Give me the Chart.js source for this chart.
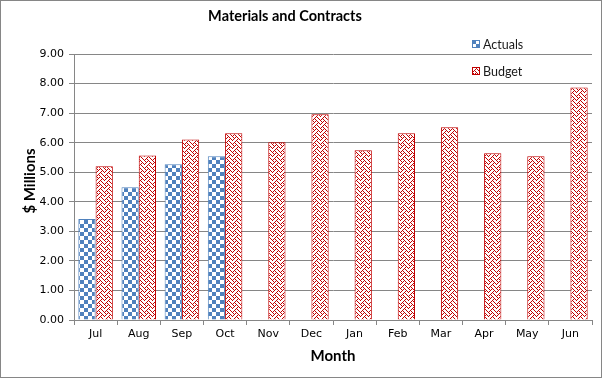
<!DOCTYPE html>
<html>
<head>
<meta charset="utf-8">
<script src="https://cdn.jsdelivr.net/npm/chart.js@4/dist/chart.umd.min.js"></script>
<style>
  html, body { margin: 0; padding: 0; background: #fff; overflow: hidden; }
  #wrap { width: 603px; height: 378px; position: relative; }
</style>
</head>
<body>
<div id="wrap"><canvas id="c"></canvas></div>
<script>
const categories = ['Jul','Aug','Sep','Oct','Nov','Dec','Jan','Feb','Mar','Apr','May','Jun'];
const actuals = [3.42, 4.49, 5.27, 5.54, null, null, null, null, null, null, null, null];
const budget = [5.20, 5.57, 6.11, 6.32, 6.01, 6.96, 5.74, 6.32, 6.52, 5.64, 5.54, 7.87];
const yTicks = [0, 1, 2, 3, 4, 5, 6, 7, 8, 9];
const chartTitle = 'Materials and Contracts';
const xTitle = 'Month';
const yTitle = '$ Millions';
const seriesNames = ['Actuals', 'Budget'];

const BLUE = '#4F81BD';
const RED = '#C00000';
const GRID = '#868686';

function checkerPattern() {
  const cv = document.createElement('canvas');
  cv.width = 8; cv.height = 8;
  const g = cv.getContext('2d');
  g.fillStyle = '#fff'; g.fillRect(0, 0, 8, 8);
  g.fillStyle = BLUE;
  g.fillRect(0, 0, 4, 4);
  g.fillRect(4, 4, 4, 4);
  return document.getElementById('c').getContext('2d').createPattern(cv, 'repeat');
}
function weavePattern() {
  const rows = ['10001000','01010100','00100010','01000101','10001000','00010100','00100010','01010001'];
  const cv = document.createElement('canvas');
  cv.width = 8; cv.height = 8;
  const g = cv.getContext('2d');
  g.fillStyle = '#fff'; g.fillRect(0, 0, 8, 8);
  g.fillStyle = RED;
  rows.forEach((r, y) => { for (let x = 0; x < 8; x++) if (r[x] === '1') g.fillRect(x, y, 1, 1); });
  return document.getElementById('c').getContext('2d').createPattern(cv, 'repeat');
}
const pA = checkerPattern();
const pB = weavePattern();

const decor = {
  id: 'decor',
  afterDraw(chart) {
    const ctx = chart.ctx;
    ctx.save();
    // title
    ctx.fillStyle = '#000';
    ctx.font = 'bold 14.5px Lato';
    ctx.textAlign = 'center';
    ctx.textBaseline = 'middle';
    ctx.fillText(chartTitle, 285, 16);
    // y axis title
    ctx.save();
    ctx.translate(30, 181);
    ctx.rotate(-Math.PI / 2);
    ctx.font = 'bold 15px Lato';
    ctx.fillText(yTitle, 0, 0);
    ctx.restore();
    // legend
    const items = [[pA, BLUE, 44], [pB, RED, 71]];
    ctx.font = '12.5px Lato';
    ctx.textAlign = 'left';
    items.forEach((it, i) => {
      ctx.fillStyle = it[0];
      ctx.fillRect(472, it[2] - 4, 8, 8);
      ctx.strokeStyle = it[1];
      ctx.lineWidth = 1;
      ctx.strokeRect(472.5, it[2] - 3.5, 7, 7);
      ctx.fillStyle = '#1a1a1a';
      ctx.fillText(seriesNames[i], 483, it[2] + 1);
    });
    // outer border
    ctx.strokeStyle = GRID;
    ctx.lineWidth = 1;
    ctx.strokeRect(0.5, 0.5, 601, 377);
    ctx.restore();
  }
};

new Chart(document.getElementById('c'), {
  type: 'bar',
  data: {
    labels: categories,
    datasets: [
      { label: seriesNames[0], data: actuals, backgroundColor: pA, borderColor: BLUE, borderWidth: 1,
        categoryPercentage: 0.8, barPercentage: 1.0 },
      { label: seriesNames[1], data: budget, backgroundColor: pB, borderColor: RED, borderWidth: 1,
        categoryPercentage: 0.8, barPercentage: 1.0 }
    ]
  },
  options: {
    responsive: true,
    maintainAspectRatio: false,
    animation: false,
    layout: { padding: { top: 54, right: 11, bottom: 0, left: 0 } },
    plugins: { legend: { display: false }, title: { display: false }, tooltip: { enabled: false } },
    scales: {
      x: {
        afterFit(s) { s.height = 58; },
        grid: { display: true, drawOnChartArea: false, drawTicks: true, tickLength: 5, color: GRID, offset: true },
        border: { display: true, color: GRID },
        ticks: { color: '#000', font: { family: 'DejaVu Sans', size: 11 }, padding: 3 },
        title: { display: true, text: xTitle, color: '#000', font: { family: 'Lato', size: 15, weight: 'bold' },
                 padding: { top: 0, bottom: 13 } }
      },
      y: {
        min: 0, max: 9,
        afterFit(s) { s.width = 74; },
        afterBuildTicks(s) { s.ticks = yTicks.map(v => ({ value: v })); },
        grid: { color: GRID, tickLength: 5, drawTicks: true },
        border: { display: true, color: GRID },
        ticks: { color: '#000', font: { family: 'DejaVu Sans', size: 11 }, padding: 5,
                 callback: v => Number(v).toFixed(2) },
        title: { display: false }
      }
    }
  },
  plugins: [decor]
});
</script>
</body>
</html>
